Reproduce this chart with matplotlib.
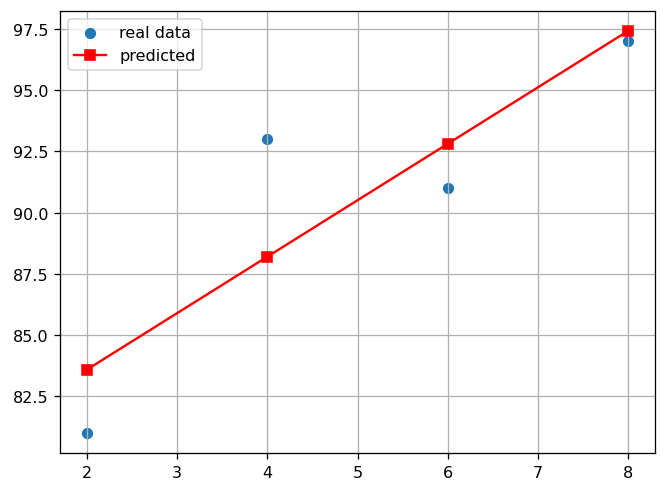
import matplotlib
matplotlib.use("Agg")
import matplotlib.pyplot as plt

# datos reales y prediccion
x_real = [2, 4, 6, 8]
y_real = [81, 93, 91, 97]
y_pred = [83.6, 88.2, 92.8, 97.4]

# la imagen original parece hecha con dpi mas alto
DPI = 115
fig = plt.figure(figsize=(667 / DPI, 495 / DPI), dpi=DPI)
ax = fig.add_axes([0.09, 0.082, 0.892, 0.894])

ax.scatter(x_real, y_real, label="real data")
ax.plot(x_real, y_pred, color="red", marker="s", label="predicted")

ax.grid(True)
ax.legend(loc="upper left")

fig.savefig("out.png", dpi=DPI)
